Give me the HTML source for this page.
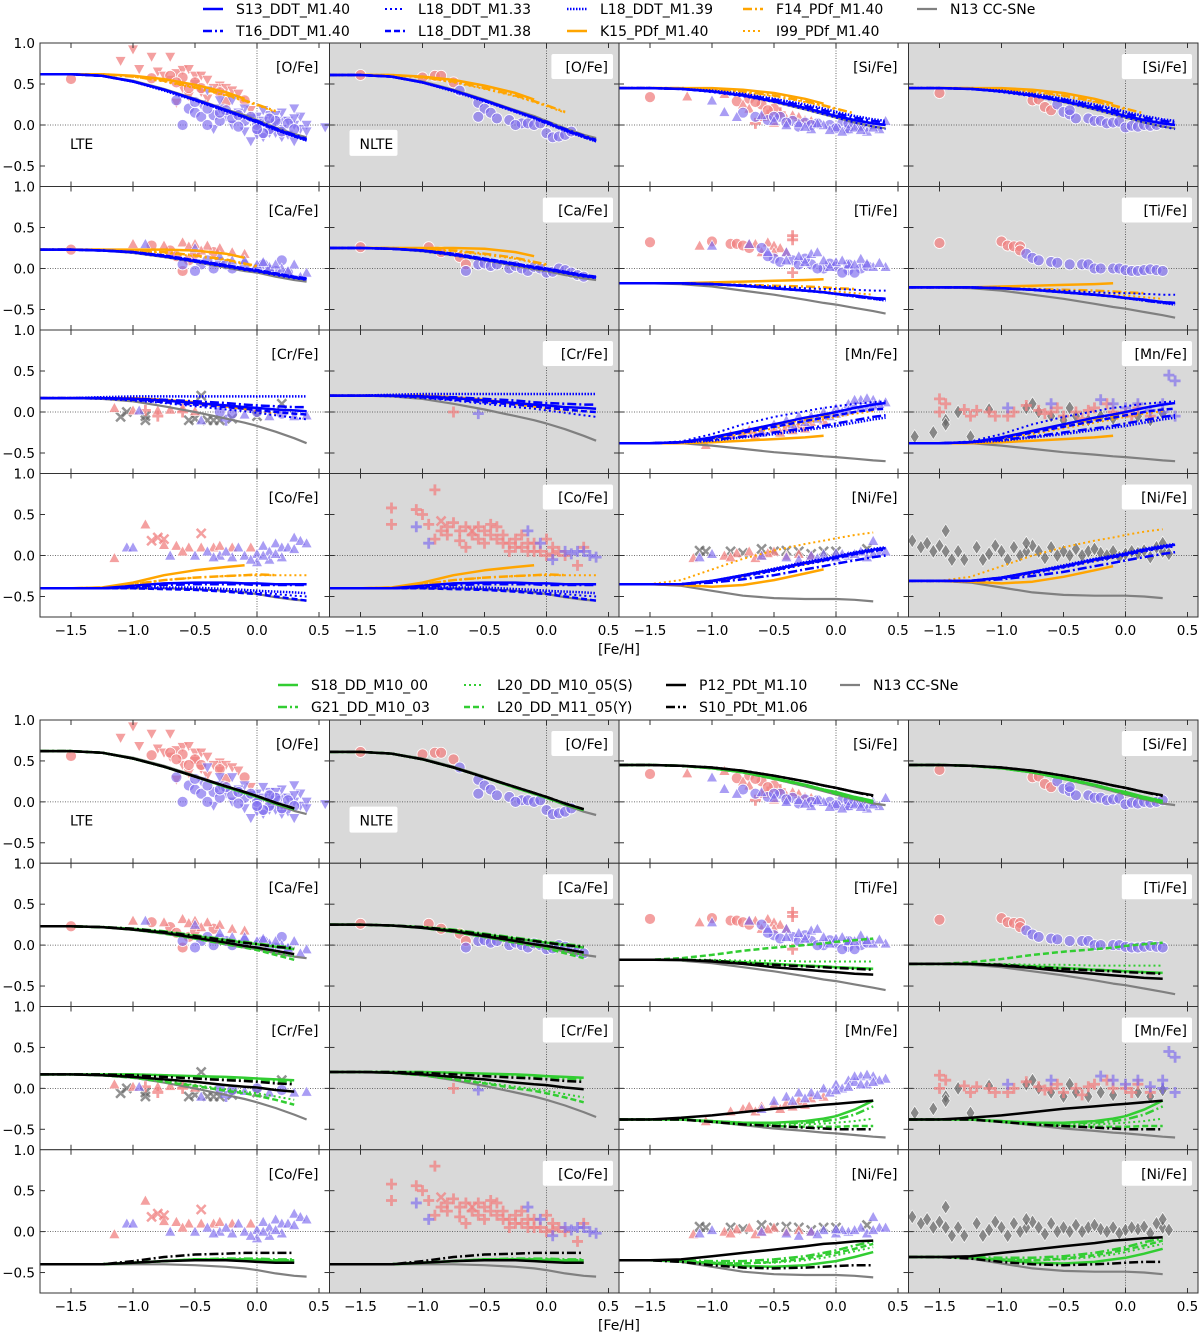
<!DOCTYPE html>
<html><head><meta charset="utf-8"><style>
body{margin:0;background:#fff;}
svg{display:block;font-family:"DejaVu Sans","Liberation Sans",sans-serif;}
</style></head><body>
<svg id="fig" width="1200" height="1335" viewBox="0 0 1200 1335" xmlns="http://www.w3.org/2000/svg"></svg>
<script>
// ---------- data ----------
const X_GRID=[-1.75,-1.5,-1.25,-1.0,-0.75,-0.5,-0.25,-0.1,0,0.15,0.3,0.4];
const xTicks=[-1.5,-1.0,-0.5,0.0,0.5];
const xTickLabels=["\u22121.5","\u22121.0","\u22120.5","0.0","0.5"];
const yTicks=[1.0,0.5,0.0,-0.5];
const yTickLabels=["1.0","0.5","0.0","\u22120.5"];
const elements=["O","Si","Ca","Ti","Cr","Mn","Co","Ni"];
const nlteShift=[-0.01,0,0.02,-0.05,0.03,0,0,0.04];

const topSeries=["S13_DDT_M1.40","T16_DDT_M1.40","L18_DDT_M1.33","L18_DDT_M1.38","L18_DDT_M1.39","K15_PDf_M1.40","F14_PDf_M1.40","I99_PDf_M1.40","N13 CC-SNe"];
const botSeries=["S18_DD_M10_00","G21_DD_M10_03","L20_DD_M10_05(S)","L20_DD_M11_05(Y)","P12_PDt_M1.10","S10_PDt_M1.06","N13 CC-SNe"];
const n=null;
const topO=[[.62,.62,.60,.53,.43,.31,.18,.10,.04,-.05,-.13,-.18],[.62,.62,.60,.53,.43,.31,.18,.10,.05,-.04,-.12,-.17],[.62,.62,.60,.53,.43,.30,.17,.09,.03,-.06,-.14,-.19],[.62,.62,.60,.53,.43,.31,.18,.10,.04,-.05,-.13,-.18],[.62,.62,.60,.53,.42,.30,.17,.09,.03,-.06,-.14,-.19],[.62,.62,.62,.60,.56,.49,.40,.32,n,n,n,n],[.62,.62,.62,.59,.54,.46,.37,.30,.25,.17,n,n],[.62,.62,.62,.59,.53,.45,.36,.29,.24,.16,n,n],[.62,.62,.60,.54,.44,.32,.19,.12,.06,-.03,-.11,-.15]];
const topSi=[[.45,.45,.44,.41,.36,.29,.21,.15,.11,.06,.02,0],[.45,.45,.44,.41,.37,.31,.23,.18,.14,.09,.05,.03],[.45,.45,.44,.40,.35,.28,.19,.13,.09,.03,-.02,-.05],[.45,.45,.44,.41,.36,.29,.21,.15,.11,.06,.02,0],[.45,.45,.44,.42,.38,.32,.25,.20,.16,.11,.07,.05],[.45,.45,.45,.45,.43,.39,.32,.26,n,n,n,n],[.45,.45,.45,.44,.41,.36,.29,.24,.20,.14,n,n],[.45,.45,.45,.44,.40,.35,.28,.23,.19,n,n,n],[.45,.45,.44,.41,.36,.28,.19,.13,.09,.03,-.02,-.04]];
const topCa=[[.23,.23,.22,.20,.15,.09,.03,-.01,-.03,-.07,-.11,-.13],[.23,.23,.22,.20,.15,.09,.03,-.01,-.03,-.07,-.11,-.13],[.23,.23,.22,.19,.14,.08,.02,-.02,-.04,-.08,-.12,-.14],[.23,.23,.22,.20,.16,.10,.04,0,-.02,-.06,-.10,-.12],[.23,.23,.22,.20,.16,.10,.04,0,-.02,-.06,-.10,-.12],[.23,.23,.23,.23,.23,.22,.18,.13,n,n,n,n],[.23,.23,.23,.22,.20,.16,.11,.06,.03,n,n,n],[.23,.23,.23,.22,.19,.15,.10,.05,.02,n,n,n],[.23,.23,.22,.19,.14,.08,.01,-.03,-.05,-.10,-.14,-.16]];
const topTi=[[-.18,-.18,-.18,-.19,-.21,-.24,-.27,-.29,-.31,-.33,-.36,-.37],[-.18,-.18,-.18,-.19,-.21,-.24,-.27,-.29,-.31,-.34,-.37,-.38],[-.18,-.18,-.18,-.19,-.20,-.22,-.24,-.25,-.25,-.26,-.27,-.27],[-.18,-.18,-.18,-.19,-.21,-.24,-.27,-.29,-.31,-.33,-.36,-.37],[-.18,-.18,-.18,-.19,-.21,-.24,-.27,-.29,-.31,-.34,-.37,-.39],[-.18,-.18,-.18,-.17,-.16,-.15,-.14,-.13,n,n,n,n],[-.18,-.18,-.18,-.19,-.20,-.21,-.22,-.23,-.24,-.25,n,n],[-.18,-.18,-.18,-.19,-.21,-.23,-.25,-.27,-.28,-.30,-.32,n],[-.18,-.18,-.19,-.22,-.27,-.32,-.38,-.42,-.44,-.48,-.52,-.55]];
const topCr=[[.17,.17,.17,.16,.14,.11,.08,.06,.05,.03,.02,.01],[.17,.17,.17,.16,.15,.13,.11,.09,.08,.07,.06,.06],[.17,.17,.16,.14,.11,.07,.03,.01,-.01,-.04,-.07,-.09],[.17,.17,.17,.15,.12,.09,.06,.04,.02,0,-.02,-.03],[.17,.17,.18,.19,.19,.19,.19,.19,.19,.19,.19,.19],[.17,.17,.17,.17,.15,.12,.07,.04,n,n,n,n],[.17,.17,.17,.16,.14,.11,.07,.04,.02,n,n,n],[.17,.17,.17,.16,.14,.10,.06,.03,.01,-.02,n,n],[.17,.17,.16,.13,.07,0,-.08,-.13,-.17,-.24,-.32,-.38]];
const topMn=[[-.38,-.38,-.37,-.31,-.23,-.15,-.07,-.03,0,.05,.09,.11],[-.38,-.38,-.37,-.34,-.30,-.25,-.20,-.17,-.14,-.10,-.06,-.04],[-.38,-.38,-.36,-.27,-.15,-.06,.01,.05,.07,.10,.12,.13],[-.38,-.38,-.37,-.32,-.25,-.18,-.11,-.07,-.04,0,.03,.04],[-.38,-.38,-.37,-.35,-.31,-.27,-.22,-.19,-.17,-.13,-.09,-.07],[-.38,-.38,-.38,-.37,-.35,-.33,-.31,-.29,n,n,n,n],[-.38,-.38,-.37,-.32,-.24,-.16,-.09,-.05,-.02,n,n,n],[-.38,-.38,-.37,-.33,-.27,-.20,-.13,-.09,-.06,-.02,.01,n],[-.38,-.38,-.38,-.41,-.45,-.49,-.52,-.54,-.55,-.57,-.59,-.60]];
const topCo=[[-.40,-.40,-.40,-.37,-.34,-.33,-.33,-.34,-.34,-.35,-.35,-.35],[-.40,-.40,-.40,-.38,-.36,-.35,-.35,-.35,-.36,-.36,-.36,-.36],[-.40,-.40,-.40,-.40,-.40,-.41,-.43,-.44,-.45,-.47,-.49,-.50],[-.40,-.40,-.40,-.40,-.41,-.42,-.44,-.46,-.47,-.50,-.53,-.55],[-.40,-.40,-.40,-.39,-.39,-.39,-.41,-.42,-.43,-.44,-.45,-.46],[-.40,-.40,-.39,-.33,-.24,-.18,-.14,-.12,n,n,n,n],[-.40,-.40,-.39,-.35,-.30,-.27,-.25,-.24,-.23,-.24,n,n],[-.40,-.40,-.39,-.35,-.30,-.27,-.25,-.24,-.24,-.24,-.24,-.24],[-.40,-.40,-.40,-.40,-.40,-.41,-.43,-.45,-.47,-.51,-.54,-.55]];
const topNi=[[-.35,-.35,-.35,-.31,-.24,-.17,-.09,-.05,-.02,.03,.07,.09],[-.35,-.35,-.35,-.33,-.29,-.24,-.17,-.13,-.10,-.06,-.02,0],[-.35,-.35,-.35,-.32,-.26,-.19,-.11,-.07,-.04,.01,.05,.07],[-.35,-.35,-.35,-.31,-.25,-.18,-.10,-.06,-.03,.02,.06,.08],[-.35,-.35,-.35,-.31,-.24,-.16,-.08,-.04,-.01,.04,.08,.10],[-.35,-.35,-.36,-.38,-.36,-.30,-.22,-.17,n,n,n,n],[-.35,-.35,-.35,-.32,-.25,-.17,-.10,-.06,-.03,n,n,n],[-.35,-.35,-.30,-.17,-.04,.06,.14,.18,.21,.25,.28,n],[-.35,-.35,-.37,-.43,-.49,-.52,-.53,-.53,-.53,-.54,-.56,n]];

const botO=[[.62,.62,.60,.53,.43,.31,.18,.11,.06,-.02,-.09,n],[.62,.62,.60,.53,.43,.31,.18,.11,.06,-.02,-.09,n],[.62,.62,.60,.53,.43,.31,.18,.11,.06,-.02,-.09,n],[.62,.62,.60,.53,.43,.31,.18,.11,.06,-.02,-.09,n],[.62,.62,.60,.53,.43,.31,.19,.12,.07,-.01,-.08,n],[.62,.62,.60,.53,.43,.31,.19,.12,.07,-.01,-.08,n],[.62,.62,.60,.54,.44,.32,.19,.12,.06,-.03,-.11,-.15]];
const botSi=[[.45,.45,.44,.41,.36,.29,.21,.15,.12,.06,.01,n],[.45,.45,.44,.41,.36,.29,.21,.15,.11,.05,0,n],[.45,.45,.44,.41,.36,.28,.20,.14,.10,.04,-.01,n],[.45,.45,.44,.41,.36,.28,.20,.14,.10,.04,-.01,n],[.45,.45,.44,.42,.38,.32,.25,.20,.17,.12,.08,n],[.45,.45,.44,.42,.38,.32,.25,.20,.17,.12,.07,n],[.45,.45,.44,.41,.36,.28,.19,.13,.09,.03,-.02,-.04]];
const botCa=[[.23,.23,.22,.20,.16,.11,.06,.03,.01,-.02,-.05,n],[.23,.23,.22,.20,.17,.12,.07,.04,.02,-.01,-.03,n],[.23,.23,.22,.19,.15,.09,.03,-.01,-.04,-.09,-.14,n],[.23,.23,.22,.19,.14,.08,.01,-.03,-.06,-.12,-.18,n],[.23,.23,.22,.19,.15,.09,.03,-.01,-.03,-.07,-.11,n],[.23,.23,.22,.20,.16,.11,.06,.03,.01,-.02,-.04,n],[.23,.23,.22,.19,.14,.08,.01,-.03,-.05,-.10,-.14,-.16]];
const botTi=[[-.18,-.18,-.18,-.19,-.21,-.23,-.25,-.26,-.27,-.28,-.29,n],[-.18,-.18,-.18,-.19,-.21,-.23,-.25,-.26,-.27,-.28,-.29,n],[-.18,-.18,-.18,-.18,-.19,-.19,-.20,-.20,-.20,-.20,-.20,n],[-.18,-.18,-.16,-.12,-.07,-.03,0,.02,.04,.06,.08,n],[-.18,-.18,-.18,-.20,-.23,-.27,-.30,-.32,-.33,-.35,-.36,n],[-.18,-.18,-.18,-.19,-.22,-.24,-.26,-.27,-.28,-.29,-.30,n],[-.18,-.18,-.19,-.22,-.27,-.32,-.38,-.42,-.44,-.48,-.52,-.55]];
const botCr=[[.17,.17,.17,.17,.16,.15,.14,.13,.12,.11,.10,n],[.17,.17,.17,.17,.16,.14,.12,.11,.10,.09,.08,n],[.17,.17,.16,.13,.09,.04,-.01,-.04,-.06,-.10,-.14,n],[.17,.17,.16,.13,.08,.03,-.03,-.06,-.09,-.14,-.20,n],[.17,.17,.16,.14,.11,.08,.04,.02,.01,-.02,-.04,n],[.17,.17,.17,.16,.14,.12,.10,.09,.08,.06,.05,n],[.17,.17,.16,.13,.07,0,-.08,-.13,-.17,-.24,-.32,-.38]];
const botMn=[[-.38,-.38,-.38,-.40,-.42,-.42,-.40,-.37,-.34,-.26,-.15,n],[-.38,-.38,-.38,-.40,-.42,-.43,-.42,-.40,-.38,-.32,-.22,n],[-.38,-.38,-.38,-.41,-.44,-.45,-.44,-.43,-.42,-.40,-.37,n],[-.38,-.38,-.38,-.41,-.44,-.46,-.47,-.47,-.47,-.46,-.46,n],[-.38,-.38,-.36,-.33,-.29,-.25,-.22,-.20,-.19,-.17,-.15,n],[-.38,-.38,-.38,-.41,-.44,-.46,-.48,-.49,-.50,-.50,-.50,n],[-.38,-.38,-.38,-.41,-.45,-.49,-.52,-.54,-.55,-.57,-.59,-.60]];
const botCo=[[-.40,-.40,-.40,-.38,-.36,-.34,-.34,-.34,-.35,-.36,-.37,n],[-.40,-.40,-.40,-.38,-.36,-.34,-.33,-.33,-.33,-.34,-.34,n],[-.40,-.40,-.40,-.38,-.36,-.35,-.35,-.35,-.35,-.35,-.35,n],[-.40,-.40,-.40,-.38,-.36,-.34,-.34,-.34,-.34,-.35,-.35,n],[-.40,-.40,-.40,-.38,-.36,-.35,-.35,-.36,-.37,-.38,-.38,n],[-.40,-.40,-.40,-.36,-.31,-.28,-.27,-.26,-.26,-.26,-.26,n],[-.40,-.40,-.40,-.40,-.40,-.41,-.43,-.45,-.47,-.51,-.54,-.55]];
const botNi=[[-.35,-.35,-.36,-.39,-.42,-.43,-.41,-.38,-.36,-.31,-.25,n],[-.35,-.35,-.35,-.36,-.36,-.34,-.30,-.26,-.23,-.17,-.12,n],[-.35,-.35,-.36,-.38,-.39,-.38,-.35,-.32,-.29,-.24,-.19,n],[-.35,-.35,-.36,-.38,-.39,-.37,-.33,-.29,-.26,-.21,-.15,n],[-.35,-.35,-.34,-.30,-.26,-.22,-.18,-.15,-.14,-.12,-.11,n],[-.35,-.35,-.37,-.41,-.44,-.45,-.44,-.43,-.42,-.41,-.41,n],[-.35,-.35,-.37,-.43,-.49,-.52,-.53,-.53,-.53,-.54,-.56,n]];
const topModels=[topO,topSi,topCa,topTi,topCr,topMn,topCo,topNi];
const botModels=[botO,botSi,botCa,botTi,botCr,botMn,botCo,botNi];

// observations: flat x,y pairs per marker group
const obsO_L={rv:[-1.0,.92,-1.1,.78,-.85,.83,-.7,.83,-.95,.68,-.8,.65,-.65,.63,-.6,.67,-.55,.68,-.5,.6,-.45,.6,-.4,.55,-.3,.48,-.25,.45,-.2,.42,-.15,.38,-.3,.38,-.5,.5,-.7,.55,-.6,.45,-.4,.32,-.65,.27,-.05,.18,-.55,.35,-.75,.6,-.35,.45,-.45,.4],
 rc:[-1.5,.56,-.85,.57,-.7,.6,-.6,.58,-.5,.52,-.45,.45,-.3,.4,-.1,.3,-.25,.28,-.65,.52,-.55,.45],
 bv:[-.4,.42,-.3,.2,-.2,.3,-.1,.2,0,.1,.1,0,.2,.05,.3,.2,.35,-.05,-.35,-.05,-.05,-.2,.05,-.15,.15,-.1,.25,-.12,.3,-.2,.2,.15,.1,.12,.4,0,.55,-.03,-.2,0,-.1,-.08,0,-.12,.25,.05,.35,.1,-.45,.25,-.25,.1,.05,.05,.15,.02,.3,0,.2,-.05,-.15,.15,-.05,.08,.05,.18,.1,-.1,.2,-.15,.4,-.08,-.3,.3,0,.02,.15,.12,.3,.08],
 bc:[-.65,.3,-.55,.2,-.5,.15,-.45,.1,-.35,.12,-.3,.05,-.2,.08,-.1,.05,0,0,.1,-.05,.15,.05,-.4,0,-.6,0,-.25,.18,.05,-.1,.2,-.08,-.15,-.02,.25,.02,-.5,.28,-.4,.2,-.3,.15,-.05,.1,.1,.08,-.15,.12,0,-.05,.3,-.05]};
const obsO_N={rc:[-1.5,.61,-1.0,.58,-.9,.6,-.85,.6,-.75,.52],bc:[-.7,.42,-.55,.27,-.5,.2,-.55,.1,-.45,.15,-.4,.08,-.3,.06,-.2,.02,-.25,0,-.15,.02,-.1,0,-.05,.02,0,-.1,.05,-.15,.1,-.14,.15,-.12,.2,-.08]};
const obsSi_L={rc:[-1.5,.34,-.8,.29,-.7,.32,-.6,.25,-.5,.2,-.65,.28,-.55,.18],rt:[-1.2,.35,-.9,.38,-.75,.25,-.6,.1,-.5,.03,-.7,.2,-.4,.08,-.3,.1,-.2,.05,-.45,.15,-.35,.12,-.25,.06],rp:[-.65,.02,-.55,.12,-.45,.15],
 bt:[-1.0,.3,-.9,.16,-.8,.1,-.6,.12,-.5,.05,-.4,0,-.3,.02,-.2,-.05,-.1,0,0,-.03,.1,-.05,.2,-.02,.3,0,.4,.05,.35,-.05,.15,-.03,-.05,-.06,.25,-.08,-.15,.02,.05,-.08,.2,-.06,-.25,-.02,.3,-.03],
 bc:[-.75,.15,-.65,.1,-.55,.06,-.45,.1,-.35,.05,-.25,.03,-.15,.02,-.05,0,.05,.02,.15,0,.25,-.02,-.3,-.02,.1,-.05,-.5,.1,-.4,.03,-.2,.0,0,-.04,.1,.02,.2,0]};
const obsSi_N={rc:[-1.5,.39,-.75,.3,-.7,.31,-.65,.22,-.6,.18],bc:[-.55,.25,-.5,.16,-.45,.13,-.4,.08,-.45,.18,-.3,.08,-.25,.05,-.2,.05,-.15,.02,-.1,.03,-.05,.04,0,-.03,.05,-.01,.1,-.02,.15,0,.2,-.01,.25,0,.3,.02]};
const obsCa_L={rt:[-1.0,.3,-.75,.28,-.6,.32,-.5,.3,-.4,.28,-.3,.25,-.2,.2,-.1,.18,-.55,.27,-.45,.22],rc:[-1.5,.23,-.85,.28,-.7,.22,-.65,.15,-.55,.1,-.5,.18,-.35,.2,-.6,-.03],
 bt:[-.9,.3,-.5,.25,-.3,.15,-.1,.1,0,.05,.1,.02,.2,0,.3,.05,.4,-.05,.35,-.1,.25,-.03,-.2,.1,.05,.08,.15,.05],bc:[-.6,.05,-.45,.05,-.35,0,-.3,.08,-.2,0,-.1,.05,0,0,.05,.05,.15,-.03,.25,-.05,-.5,-.03,.2,.1,-.4,.1,-.25,.05,.1,-.02]};
const obsCa_N={rc:[-1.5,.26,-.95,.26,-.85,.2,-.7,.14,-.65,.05],bc:[-.65,-.03,-.55,.05,-.5,.06,-.45,.03,-.4,.05,-.3,0,-.25,.03,-.2,0,-.15,-.03,-.1,.02,-.05,0,0,-.05,.05,-.04,.1,0,.15,-.02,.2,-.05,.25,-.08,.3,-.1]};
const obsTi_L={rc:[-1.5,.32,-1.0,.33,-.85,.3,-.8,.3,-.75,.28,-.7,.25],rt:[-1.1,.28,-.65,.3,-.55,.32,-.5,.28,-.45,.25,-.4,.2,-.6,.2,-.7,.3,-.5,.2],rp:[-.35,.4,-.35,.35,-.35,-.05],
 bt:[-1.0,.28,-.7,.3,-.55,.2,-.4,.2,-.3,.15,-.2,.18,-.1,.1,0,.08,.1,.05,.2,.12,.3,.02,.4,.02,.35,.07,.15,.05,-.05,.02,-.15,.2,-.25,.08,.05,.1,.25,.06,-.4,.1],
 bc:[-.6,.25,-.5,.12,-.45,.08,-.35,.1,-.3,.05,-.2,.05,-.1,0,0,.02,.1,-.02,.2,0,.25,.03,-.25,.12,.05,-.05,.15,-.05,-.15,0,-.55,.15,-.05,.06,.1,.05]};
const obsTi_N={rc:[-1.5,.31,-1.0,.33,-.95,.28,-.9,.27,-.85,.27,-.85,.22],bc:[-.8,.18,-.75,.13,-.7,.1,-.6,.08,-.55,.07,-.45,.05,-.35,.05,-.3,.05,-.25,0,-.2,0,-.1,0,-.05,0,0,-.02,.05,-.03,.1,-.03,.15,-.02,.2,-.01,.25,-.02,.3,-.03]};
const obsCr_L={gx:[-1.1,-.06,-1.05,0,-.9,-.1,-.9,-.05,-.55,-.1,-.5,-.08,-.4,-.1,-.35,-.1,-.3,-.1,-.2,-.08,-.45,.2,0,-.05,.2,.1],rt:[-1.15,.05,-1.0,.02,-.8,.02,-.7,.03,-.6,.05,-.5,.01],rp:[-.9,.02,-.8,-.05,-.6,0],
 bt:[-.95,.02,-.45,-.1,-.1,-.03,.1,-.05,.3,-.05,.4,-.04],bp:[-.25,-.1],bc:[-.3,0,-.2,-.02,0,0,.2,-.02]};
const obsCr_N={rp:[-.75,0],bp:[-.55,-.02]};
const obsMn_L={rt:[-.85,-.28,-.75,-.25,-.7,-.22,-.6,-.22,-.5,-.2,-.4,-.18,-.3,-.15,-.2,-.12,-.1,-.1,-1.05,-.4,-.65,-.28,-.45,-.25,-.35,-.22,-.25,-.2],
 bt:[-.4,-.1,-.3,-.05,-.2,-.05,-.1,0,0,.05,.1,.1,.2,.15,.3,.15,.4,.12,.15,.08,.25,.05,-.05,-.05,.35,.1,.05,0,-.15,-.08,-.5,-.15,-.6,-.25,-.25,-.12,0,-.02,.1,.02,.2,.05,.3,.08,.25,.17,.15,.15,-.35,-.15]};
const obsMn_N={gd:[-1.7,-.3,-1.55,-.25,-1.45,-.1,-1.45,-.15,-1.35,0,-1.25,-.3,-1.1,.03,-.8,.05,-.75,.1,-.7,0,-.6,-.05,-.5,-.1,-.45,.05,-.4,-.05,-.3,-.1,-.2,-.05,-.1,-.08,.1,-.05,.2,-.1,.3,-.02],
 rp:[-1.5,.16,-1.45,.1,-1.5,0,-1.3,.03,-1.2,.02,-1.25,-.05,-1.1,0,-1.05,-.05,-.9,0,-.8,.08,-.7,.02,-.6,0,-.5,-.05,-.4,0,-.3,.02,-.25,.05,-.1,0,0,0,.1,.05,.2,-.05,-.15,.1,-.55,.05,-.35,-.08,.05,-.05,-.95,-.05,-.65,-.02],
 bp:[-.95,.05,-.6,.1,-.2,.15,-.1,.1,.1,.1,.3,.1,.35,.45,.4,.38,.4,-.05,.3,0,.2,.02,0,.05]};
const obsCo_L={rt:[-1.15,-.03,-.9,.38,-.75,.13,-.65,.12,-.55,.1,-.45,.1,-.35,.1,-.3,.12,-.2,.1,-.05,.1,-.6,.05],rx:[-.85,.18,-.8,.22,-.75,.2,-.45,.27],
 bt:[-1.05,.1,-1.0,.1,-.7,0,-.5,0,-.4,.05,-.3,0,-.2,-.02,-.1,0,0,.02,.05,.12,.1,.05,.15,.15,.2,.1,.25,.1,.3,.22,.35,.18,.4,.15,-.15,.1,0,-.08,.1,-.05,.2,-.02,-.25,.05,-.05,-.05,.05,0,.15,.02,.3,.08,-.35,-.02]};
const obsCo_N={rp:[-1.25,.58,-1.25,.38,-1.05,.56,-1.0,.5,-.9,.8,-.95,.38,-.85,.3,-.8,.25,-.75,.4,-.7,.3,-.65,.35,-.6,.25,-.55,.2,-.5,.3,-.45,.38,-.4,.2,-.35,.25,-.3,.15,-.25,.2,-.2,.1,-.15,.05,-.1,.15,-.05,.05,0,0,.05,.1,.1,.05,.15,0,.25,-.12,.3,.1,0,.2,-.55,.35,-.4,.35,-.65,.1,-.3,.05,-.9,.2,-.8,.35,-.2,.25,-.7,.18,-.45,.25,-.35,.15,-.25,.1,-.15,.15,-.5,.15,-.1,.05,.05,.02],
 rx:[-.85,.42,-.6,.3],bp:[-1.05,.35,-.95,.15,-.15,.3,.05,-.05,.15,.05,.25,.05,.35,0,.4,-.02,.2,.02,-.05,.15,.3,.05]};
const obsNi_L={gx:[-1.1,.06,-1.05,.05,-.85,.05,-.75,.03,-.6,.08,-.5,.05,-.3,.05,-.2,.02,0,.05,.25,.08,-.4,.06,-.1,.05],rt:[-1.15,-.03,-.9,0,-.8,.03,-.7,.05,-.6,0,-.5,.05,-.4,0,-.3,.02,-.2,0,-.65,-.03,-.85,-.02,-.55,.03],
 bt:[-1.1,-.02,-1.0,.02,-.6,0,-.4,-.02,-.2,0,-.1,.02,0,-.02,.1,0,.2,.05,.3,.18,.35,.05,.4,.05,.15,.02,.05,.02,-.3,-.05,.25,-.02,-.15,-.03,0,.03,.3,.02]};
const obsNi_N={gd:[-1.72,.18,-1.65,.1,-1.6,.15,-1.55,.05,-1.5,.12,-1.45,.05,-1.45,.3,-1.4,-.05,-1.35,.05,-1.3,-.05,-1.2,.1,-1.15,-.05,-1.05,.12,-1.0,.05,-.95,-.05,-.9,.1,-.85,0,-.8,.05,-.75,.12,-.7,.05,-.6,.1,-.5,.05,-.45,0,-.4,.08,-.3,.05,-.2,.03,-.1,.05,0,.02,.1,.03,.2,-.02,.3,.05,.35,.02,-.65,-.03,-.25,.08,.05,.05,.25,.1,-.55,0,-1.1,.02,-.35,.0,-.15,.0,.15,.06,-.05,-.02,.3,.15,-.8,.15]};
const obsLTE=[obsO_L,obsSi_L,obsCa_L,obsTi_L,obsCr_L,obsMn_L,obsCo_L,obsNi_L];
const obsNLTE=[obsO_N,obsSi_N,obsCa_N,obsTi_N,obsCr_N,obsMn_N,obsCo_N,obsNi_N];

// ---------- styles ----------
const topStyle=[["#0000ff","none",2.5],["#0000ff","9,3,2,3",2.5],["#0000ff","2,3",2],["#0000ff","6,3",2.5],["#0000ff","1.5,1.5",2.5],["#ffa500","none",2.5],["#ffa500","9,3,2,3",2.5],["#ffa500","2,3",2],["#808080","none",2.2]];
const botStyle=[["#32cd32","none",2.5],["#32cd32","9,3,2,3",2.5],["#32cd32","2,3",2],["#32cd32","6,3",2.5],["#000000","none",2.5],["#000000","9,3,2,3",2.5],["#808080","none",2.2]];
const drawOrderTop=[8,5,6,7,0,1,2,3,4];
const drawOrderBot=[6,0,1,2,3,4,5];

const NS="http://www.w3.org/2000/svg";
const svg=document.getElementById("fig");
function el(tag,attrs,parent){const e=document.createElementNS(NS,tag);for(const k in attrs)e.setAttribute(k,attrs[k]);(parent||svg).appendChild(e);return e;}

const COL_L=[40,329.5,619,908.5], COL_W=289.5, PXU=124;
function xs(c,x){return COL_L[c]+(x+1.75)*PXU;}

function marker(g,type,px,py){
  const red="rgba(240,128,128,0.75)", blue="rgba(123,104,238,0.65)", gray="rgba(100,100,100,0.7)";
  let m;
  if(type==="rc"||type==="bc"){m=el("circle",{cx:px,cy:py,r:5.5,fill:type==="rc"?red:blue,stroke:"#fff","stroke-width":0.8},g);}
  else if(type==="rv"||type==="bv"){m=el("path",{d:`M${px-5.5},${py-4.5}L${px+5.5},${py-4.5}L${px},${py+5.5}Z`,fill:type==="rv"?red:blue,stroke:"#fff","stroke-width":0.6},g);}
  else if(type==="rt"||type==="bt"){m=el("path",{d:`M${px-5.5},${py+4.5}L${px+5.5},${py+4.5}L${px},${py-5.5}Z`,fill:type==="rt"?red:blue,stroke:"#fff","stroke-width":0.6},g);}
  else if(type==="rp"||type==="bp"){m=el("path",{d:`M${px-5.5},${py}H${px+5.5}M${px},${py-5.5}V${py+5.5}`,stroke:type==="rp"?red:blue,"stroke-width":2.8,fill:"none"},g);}
  else if(type==="rx"||type==="gx"){m=el("path",{d:`M${px-4.5},${py-4.5}L${px+4.5},${py+4.5}M${px+4.5},${py-4.5}L${px-4.5},${py+4.5}`,stroke:type==="rx"?red:gray,"stroke-width":2.5,fill:"none"},g);}
  else if(type==="gd"){m=el("path",{d:`M${px},${py-7}L${px+4.5},${py}L${px},${py+7}L${px-4.5},${py}Z`,fill:gray,stroke:"#fff","stroke-width":0.6},g);}
  
  
}

let clipId=0;
function drawFigure(top,rowH,models,styles,order,seriesNames,figName){
  const PYU=rowH/1.75;
  for(let r=0;r<4;r++){
    const rt=top+r*rowH;
    const ys=y=>rt+(1.0-y)*PYU;
    for(let c=0;c<4;c++){
      const ei=r*2+(c>>1), nlte=(c%2===1);
      const g=el("g",{});
      
      
      const L=COL_L[c];
      el("rect",{x:L,y:rt,width:COL_W,height:rowH,fill:nlte?"#d9d9d9":"#ffffff"},g);
      const cid="cp"+(clipId++);
      const cp=el("clipPath",{id:cid},g);el("rect",{x:L,y:rt,width:COL_W,height:rowH},cp);
      const dg=el("g",{"clip-path":`url(#${cid})`},g);
      el("line",{x1:L,x2:L+COL_W,y1:ys(0),y2:ys(0),stroke:"#444","stroke-width":0.8,"stroke-dasharray":"1,1.5"},dg);
      el("line",{x1:xs(c,0),x2:xs(c,0),y1:rt,y2:rt+rowH,stroke:"#444","stroke-width":0.8,"stroke-dasharray":"1,1.5"},dg);
      const obs=nlte?obsNLTE[ei]:obsLTE[ei];
      for(const t of ["gd","gx","rv","rc","rt","rx","rp","bv","bc","bt","bp"]){
        if(!obs[t])continue;
        const a=obs[t];
        for(let i=0;i<a.length;i+=2) marker(dg,t,xs(c,a[i]),ys(a[i+1]));
      }
      const shift=nlte?nlteShift[ei]:0;
      for(const si of order){
        const vals=models[ei][si];let d="";
        for(let k=0;k<X_GRID.length;k++){if(vals[k]===null)break;d+=(k?"L":"M")+xs(c,X_GRID[k]).toFixed(1)+","+ys(vals[k]+shift).toFixed(1);}
        const st=styles[si];
        const p=el("path",{d:d,fill:"none",stroke:st[0],"stroke-width":st[2],"stroke-dasharray":st[1],"stroke-linejoin":"round"},dg);
        
        
      }
      el("rect",{x:L,y:rt,width:COL_W,height:rowH,fill:"none",stroke:"#333","stroke-width":1},g);
      for(const t of xTicks){const px=xs(c,t);el("line",{x1:px,x2:px,y1:rt,y2:rt+5,stroke:"#333"},g);el("line",{x1:px,x2:px,y1:rt+rowH,y2:rt+rowH-5,stroke:"#333"},g);}
      for(const t of yTicks){if(t===1.0)continue;const py=ys(t);el("line",{x1:L,x2:L+5,y1:py,y2:py,stroke:"#333"},g);el("line",{x1:L+COL_W,x2:L+COL_W-5,y1:py,y2:py,stroke:"#333"},g);}
      const lab="["+elements[ei]+"/Fe]";
      const lw=lab.length*8.6+10;
      if(nlte){el("rect",{x:L+COL_W-lw-6,y:rt+11,width:lw,height:25,fill:"#fff",rx:2},g);}
      const tx=el("text",{x:L+COL_W-11,y:rt+29,"text-anchor":"end","font-size":14,fill:"#000"},g);tx.textContent=lab;
      
      
      if(r===0&&c<2){
        const tlab=nlte?"NLTE":"LTE";
        if(nlte)el("rect",{x:L+20,y:ys(-0.23)-14,width:48,height:26,fill:"#fff",rx:2},g);
        const lt=el("text",{x:L+30,y:ys(-0.23)+5,"font-size":14,fill:"#000"},g);lt.textContent=tlab;
        
        
      }
      if(c===0){
        for(let i=0;i<yTicks.length;i++){const t=el("text",{x:L-5,y:ys(yTicks[i])+5,"text-anchor":"end","font-size":13.5,fill:"#000"},svg);t.textContent=yTickLabels[i];
          
          }
      }
      if(r===3){
        for(let i=0;i<xTicks.length;i++){const t=el("text",{x:xs(c,xTicks[i]),y:rt+rowH+18,"text-anchor":"middle","font-size":13.5,fill:"#000"},svg);t.textContent=xTickLabels[i];
          
          }
      }
    }
  }
  const xl=el("text",{x:619,y:top+4*rowH+37,"text-anchor":"middle","font-size":14,fill:"#000"});xl.textContent="[Fe/H]";
  
  
}

function legend(items,styles,rowY,figName){
  const g=el("g",{});
  
  
  for(const it of items){
    const st=styles[it.s];
    const y=rowY[it.r];
    el("line",{x1:it.x,x2:it.x+20,y1:y,y2:y,stroke:st[0],"stroke-width":st[2],"stroke-dasharray":st[1]},g);
    const t=el("text",{x:it.x+33,y:y+5,"font-size":14,fill:"#000"},g);t.textContent=it.label;
    
    
  }
}

drawFigure(43,143.5,topModels,topStyle,drawOrderTop,topSeries,"top");
drawFigure(720,143.25,botModels,botStyle,drawOrderBot,botSeries,"bottom");
legend([{s:0,r:0,x:203,label:topSeries[0]},{s:1,r:1,x:203,label:topSeries[1]},{s:2,r:0,x:385,label:topSeries[2]},{s:3,r:1,x:385,label:topSeries[3]},{s:4,r:0,x:567,label:topSeries[4]},{s:5,r:1,x:567,label:topSeries[5]},{s:6,r:0,x:743,label:topSeries[6]},{s:7,r:1,x:743,label:topSeries[7]},{s:8,r:0,x:917,label:topSeries[8]}],topStyle,[9,31],"top");
legend([{s:0,r:0,x:278,label:botSeries[0]},{s:1,r:1,x:278,label:botSeries[1]},{s:2,r:0,x:464,label:botSeries[2]},{s:3,r:1,x:464,label:botSeries[3]},{s:4,r:0,x:666,label:botSeries[4]},{s:5,r:1,x:666,label:botSeries[5]},{s:6,r:0,x:840,label:botSeries[6]}],botStyle,[685,707],"bottom");
</script>
</body></html>
